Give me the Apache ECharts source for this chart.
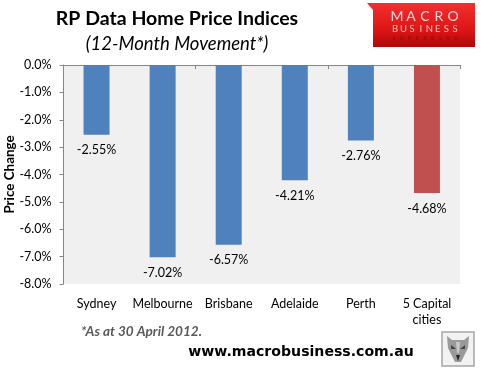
<!DOCTYPE html>
<html><head><meta charset="utf-8">
<style>html,body{margin:0;padding:0;background:#fff}#c{width:481px;height:373px}</style>
<script src="https://cdn.jsdelivr.net/npm/echarts@6/dist/echarts.min.js"></script>
</head><body><div id="c"></div>
<script>
const categories = ['Sydney','Melbourne','Brisbane','Adelaide','Perth','5 Capital\ncities'];
const priceChange = [-2.55,-7.02,-6.57,-4.21,-2.76,-4.68];
const barColors = ['#4F81BD','#4F81BD','#4F81BD','#4F81BD','#4F81BD','#C0504D'];
const titleText = 'RP Data Home Price Indices';
const subtitleText = '(12-Month Movement*)';
const yAxisName = 'Price Change';
const footnote = '*As at 30 April 2012.';
const siteText = 'www.macrobusiness.com.au';
const F = 'Lato, "Open Sans", sans-serif';
function spaced(word, x0, x1, y, font, fill){
  const step = (x1-x0)/(word.length-1);
  return word.split('').map((ch,i)=>({type:'text',style:{text:ch,x:x0+i*step,y:y,textAlign:'center',textVerticalAlign:'middle',font:font,fill:fill}}));
}
const chart = echarts.init(document.getElementById('c'), null, {renderer:'canvas'});
chart.setOption({
  animation:false,
  backgroundColor:'#fff',
  grid:{left:63.5,right:21,top:65,bottom:89,show:true,backgroundColor:'#F0F0F0',borderWidth:0,outerBoundsMode:'none',containLabel:false},
  xAxis:[
    {type:'category',position:'top',data:categories,
     axisLine:{show:true,lineStyle:{color:'#868686',width:1}},
     axisTick:{show:true,inside:true,length:4,lineStyle:{color:'#868686'}},
     axisLabel:{show:false},splitLine:{show:false}},
    {type:'category',position:'bottom',data:categories,
     axisLine:{show:false},axisTick:{show:false},
     axisLabel:{show:true,color:'#000',fontFamily:F,fontSize:12.5,margin:12,lineHeight:16,interval:0},
     splitLine:{show:false}}
  ],
  yAxis:{type:'value',min:-8,max:0,interval:1,
    name:yAxisName,nameLocation:'middle',nameGap:47,nameMoveOverlap:false,
    nameTextStyle:{color:'#000',fontFamily:F,fontSize:13.4,fontWeight:'bold'},
    axisLine:{show:true,lineStyle:{color:'#868686'}},
    axisTick:{show:true,length:4,lineStyle:{color:'#868686'}},
    axisLabel:{color:'#000',fontFamily:F,fontSize:12.5,margin:12,formatter:v=>v.toFixed(1)+'%'},
    splitLine:{show:false}},
  series:[{type:'bar',xAxisIndex:0,barWidth:26,
    data:priceChange.map((v,i)=>({value:v,itemStyle:{color:barColors[i]}})),
    label:{show:true,position:'bottom',distance:9,color:'#000',fontFamily:F,fontSize:12.5,formatter:p=>p.value.toFixed(2)+'%'}}],
  graphic:[
    {type:'text',style:{text:titleText,x:177,y:19,textAlign:'center',textVerticalAlign:'middle',font:'bold 19.5px '+F,fill:'#000'}},
    {type:'text',style:{text:subtitleText,x:177,y:44,textAlign:'center',textVerticalAlign:'middle',font:'italic 18.5px '+F,fill:'#000'}},
    {type:'text',style:{text:footnote,x:81,y:332,textAlign:'left',textVerticalAlign:'middle',font:'italic bold 13.6px '+F,fill:'#595959'}},
    {type:'text',style:{text:siteText,x:301,y:352,textAlign:'center',textVerticalAlign:'middle',font:'bold 14.1px "DejaVu Sans", sans-serif',fill:'#000'}},
    {type:'rect',shape:{x:373,y:3,width:102,height:44},style:{fill:new echarts.graphic.LinearGradient(0,0,0,1,[{offset:0,color:'#F03030'},{offset:.6,color:'#E01515'},{offset:1,color:'#B00808'}])}},
    {type:'polygon',shape:{points:[[367,3],[373,3],[373,10]]},style:{fill:'#F03030'}},
    ...spaced('MACRO',397,453,16,'14px '+F,'#F6D8D8'),
    ...spaced('BUSINESS',395,455,29,'9.5px '+F,'#F2C0C0'),
    ...spaced('SUPERBLOG',394,456,38,'bold 5px '+F,'#8A1010'),
    {type:'rect',shape:{x:442,y:332,width:32,height:34},style:{fill:'#F2F2F2',stroke:'#A6A6A6',lineWidth:1.5}},
    {type:'polygon',shape:{points:[[447,336],[452,340],[464,340],[469,336],[468,348],[461,362],[455,362],[448,348]]},style:{fill:'#9A9A9A'}},
    {type:'polygon',shape:{points:[[451,345],[456,349],[451,349]]},style:{fill:'#444'}},
    {type:'polygon',shape:{points:[[465,345],[465,349],[460,349]]},style:{fill:'#444'}},
    {type:'polygon',shape:{points:[[456,355],[460,355],[458,361]]},style:{fill:'#222'}},
    {type:'polygon',shape:{points:[[456,342],[460,342],[459,353],[457,353]]},style:{fill:'#C8C8C8'}}
  ]
});
</script></body></html>
